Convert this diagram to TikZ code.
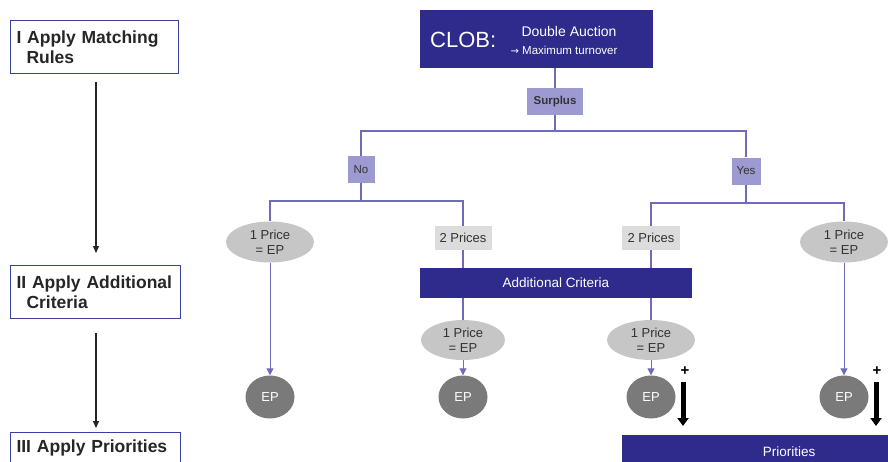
\documentclass[tikz,border=0pt]{standalone}
\usepackage{fontspec}
\setmainfont{Liberation Sans}
\newfontfamily\symfont{DejaVu Sans}
\usetikzlibrary{arrows.meta,shapes.geometric}
\definecolor{navy}{HTML}{2E2B8C}
\definecolor{lav}{HTML}{9C9AD0}
\definecolor{wire}{HTML}{6E6BB8}
\definecolor{lgray}{HTML}{DCDCDC}
\definecolor{egray}{HTML}{C6C6C6}
\definecolor{dgray}{HTML}{7A7A7A}
\definecolor{frame}{HTML}{3A40A0}
\tikzset{
  stagebox/.style={draw=frame,line width=1pt,fill=white,anchor=north west,align=left,
    font=\fontsize{17.5}{20}\selectfont\bfseries,text=black!85,inner xsep=6pt,inner ysep=4pt},
  bluebar/.style={fill=navy,text=white,inner sep=0pt},
  answer/.style={fill=lav,text=black!80,inner sep=0pt,font=\fontsize{11.5}{13}\selectfont},
  pricebox/.style={fill=lgray,text=black!80,inner sep=0pt,font=\fontsize{13}{14}\selectfont},
  priceell/.style={ellipse,fill=egray,text=black!80,inner sep=0pt,align=center,
    font=\fontsize{13}{15}\selectfont},
  epnode/.style={ellipse,fill=dgray,text=white,inner sep=0pt,minimum width=49pt,
    minimum height=43pt,font=\fontsize{13}{14}\selectfont},
  tree/.style={draw=wire,line width=1.3pt},
  feed/.style={draw=wire,line width=1pt,-{Triangle[length=7pt,width=7pt]}},
  stagearrow/.style={draw=black!85,line width=1.3pt,-{Triangle[length=7pt,width=6pt]}},
  rankarrow/.style={draw=black,line width=5pt,-{Triangle[length=8pt,width=11pt]}},
}
\begin{document}
\begin{tikzpicture}[x=1pt,y=-1pt]
\useasboundingbox (0,0) rectangle (888,461);
\clip (0,0) rectangle (888,461);

% stage boxes on the left
\node[stagebox,text width=156pt,minimum height=53pt] (s1) at (10,20)
  {I Apply Matching\\\hspace{10pt}Rules};
\node[stagebox,text width=158pt,minimum height=53pt] (s2) at (10,265)
  {II Apply Additional\\\hspace{10pt}Criteria};
\node[stagebox,text width=158pt,minimum height=30pt,anchor=north west] (s3) at (10,432)
  {III Apply Priorities};
\coordinate (a1) at (96,82);
\coordinate (a2) at (96,333);
\draw[stagearrow] (a1) -- (a1 |- 0,253);
\draw[stagearrow] (a2) -- (a2 |- 0,428);

% top of the tree
\node[bluebar,minimum width=233pt,minimum height=58pt] (clob) at (536.5,39) {};
\node[text=white,font=\fontsize{22}{24}\selectfont,anchor=west,inner sep=0pt] (clobl) at (430,40) {CLOB:};
\node[text=white,font=\fontsize{14}{16}\selectfont] (da) at (569,31) {Double Auction};
\node[text=white,font=\fontsize{11.5}{13}\selectfont] (mt) at (564,50) {{\symfont\fontsize{10}{12}\selectfont →} Maximum turnover};
\node[answer,minimum width=56pt,minimum height=27pt,font=\fontsize{11.5}{13}\selectfont\bfseries] (surplus) at (555,101.5) {Surplus};
\node[answer,minimum width=27pt,minimum height=27pt] (no) at (361,169.5) {No};
\node[answer,minimum width=29pt,minimum height=27pt] (yes) at (746,171) {Yes};

\coordinate (j0) at (555,131);
\draw[tree] (clob.south -| surplus) -- (surplus.north);
\draw[tree] (surplus.south) -- (j0);
\draw[tree] (j0) -| (no.north);
\draw[tree] (j0) -| (yes.north);

% second level
\node[priceell,minimum width=88pt,minimum height=41pt] (p1) at (270,242) {1 Price\\= EP};
\node[pricebox,minimum width=57pt,minimum height=24pt] (p2) at (463,238) {2 Prices};
\node[pricebox,minimum width=58pt,minimum height=24pt] (p3) at (651,238) {2 Prices};
\node[priceell,minimum width=88pt,minimum height=41pt] (p4) at (844,242) {1 Price\\= EP};

\coordinate (j1) at (361,201);
\coordinate (j2) at (746,203);
\draw[tree] (no.south) -- (j1);
\draw[tree] (j1) -| (p1.north);
\draw[tree] (j1) -| (p2.north);
\draw[tree] (yes.south) -- (j2);
\draw[tree] (j2) -| (p3.north);
\draw[tree] (j2) -| (p4.north);

% additional criteria
\node[bluebar,minimum width=272pt,minimum height=30pt,font=\fontsize{13.5}{15}\selectfont] (ac) at (556,283) {Additional Criteria};
\draw[tree] (p2.south) -- (p2.south |- ac.north);
\draw[tree] (p3.south) -- (p3.south |- ac.north);

\node[priceell,minimum width=84pt,minimum height=40pt] (q1) at (463,340) {1 Price\\= EP};
\node[priceell,minimum width=88pt,minimum height=40pt] (q2) at (651,340) {1 Price\\= EP};
\draw[tree] (ac.south -| q1) -- (q1.north);
\draw[tree] (ac.south -| q2) -- (q2.north);

% equilibrium prices
\node[epnode] (e1) at (270,397) {EP};
\node[epnode] (e2) at (463,397) {EP};
\node[epnode] (e3) at (651,397) {EP};
\node[epnode] (e4) at (844,397) {EP};
\draw[feed] (p1.south) -- (e1.north);
\draw[feed] (q1.south) -- (e2.north);
\draw[feed] (q2.south) -- (e3.north);
\draw[feed] (p4.south) -- (e4.north);

% priority ranking arrows
\node[font=\fontsize{15}{15}\selectfont\bfseries,inner sep=0pt] (plus1) at (685,371) {+};
\node[font=\fontsize{15}{15}\selectfont\bfseries,inner sep=0pt] (plus2) at (877,371) {+};
\coordinate (r1) at (683,382);
\coordinate (r2) at (876,382);
\draw[rankarrow] (r1) -- (r1 |- 0,426);
\draw[rankarrow] (r2) -- (r2 |- 0,426);

\node[bluebar,minimum width=280pt,minimum height=40pt,anchor=north west] (prio) at (622,435) {};
\node[text=white,font=\fontsize{13.5}{15}\selectfont,inner sep=0pt] (priot) at (789,452) {Priorities};
\end{tikzpicture}
\end{document}
